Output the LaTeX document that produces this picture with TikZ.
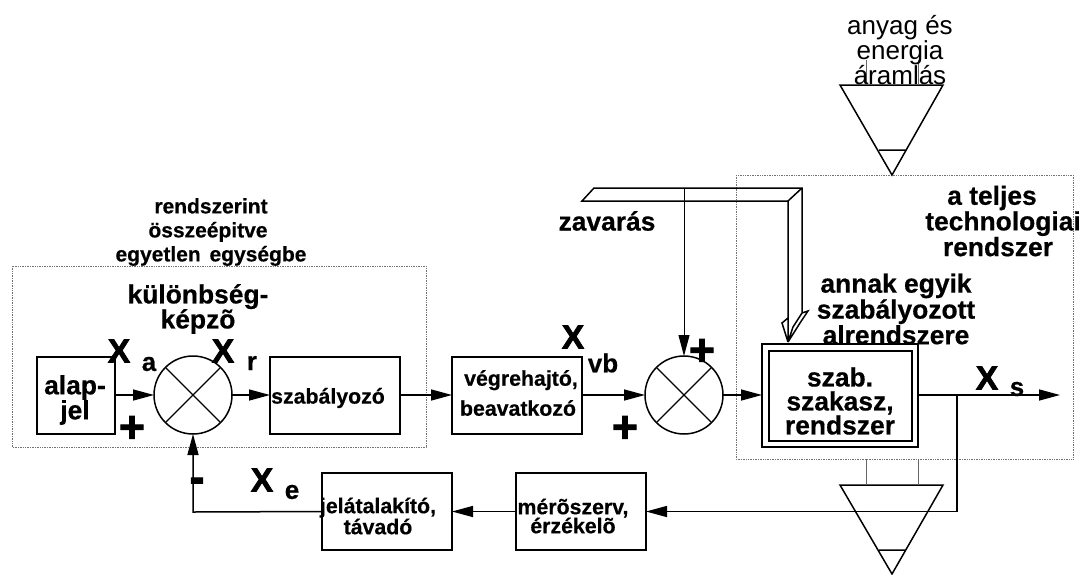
\documentclass[tikz,border=0pt]{standalone}
\usepackage{fontspec}
\setmainfont{Liberation Sans}[BoldFeatures={FakeBold=0.5}]
\newfontfamily\heavyfont{Liberation Sans Bold}[FakeBold=2.5]
\usetikzlibrary{arrows.meta}
\newcommand{\fs}[2]{\fontsize{#1}{#2}\selectfont}
\tikzset{
  every node/.style={inner sep=0pt,outer sep=0pt},
  ln/.style={line width=1.5pt,black,line join=miter},
  flow/.style={ln,-{Triangle[length=21pt,width=11pt]}},
  blockbox/.style={draw,line width=1.5pt,fill=white,minimum height=77pt},
  sumcirc/.style={circle,draw,line width=1.5pt,minimum size=78pt},
  dotbox/.style={draw=black!55,line width=0.7pt,densely dotted},
  thin gray/.style={draw=black!60,line width=0.9pt},
  lab/.style={font=\bfseries\fs{26.4}{24},align=center},
  smalllab/.style={font=\bfseries\fs{21.3}{19},align=center},
  bigx/.style={font=\heavyfont\fs{33}{33}},
  sub/.style={font=\bfseries\fs{26}{26}},
  sign/.style={font=\heavyfont\fs{44}{44}},
}
\begin{document}
\begin{tikzpicture}[x=1pt,y=-1pt]
\useasboundingbox[fill=white] (0,0) rectangle (1087,574);
% dotted frames
\draw[dotbox] (12,266) rectangle (426,447);
\draw[dotbox] (736,175) rectangle (1073,459);
% blocks
\node[blockbox,minimum width=78pt] (alap) at (76,395.5) {};
\node[blockbox,minimum width=130pt] (szabaly) at (335,395.5) {};
\node[blockbox,minimum width=130pt] (vegre) at (517,395.5) {};
\node[blockbox,minimum width=130pt] (jelat) at (387,511.5) {};
\node[blockbox,minimum width=130pt] (mero) at (581,511.5) {};
\node[sumcirc] (s1) at (193,395) {};
\node[sumcirc] (s2) at (684,395) {};
\node[draw,line width=2pt,minimum width=156pt,minimum height=103pt] (plant) at (840,395.5) {};
\node[draw,line width=2pt,minimum width=143pt,minimum height=90pt] (plantin) at (840,395.5) {};
% crosses in the summing junctions
\foreach \c in {s1,s2}{
  \draw[line width=1.3pt] (\c.45) -- (\c.225);
  \draw[line width=1.3pt] (\c.135) -- (\c.315);
}
% connectors
\coordinate (bend1) at (193,512);
\coordinate (tap) at (957,395);
\coordinate (tapd) at (957,511.5);
\coordinate (outend) at (1060,395);
\draw[flow] (alap.east |- s1) -- (s1.west);
\draw[flow] (s1.east) -- (szabaly.west |- s1);
\draw[flow] (szabaly.east |- s1) -- (vegre.west |- s1);
\draw[flow] (vegre.east |- s2) -- (s2.west);
\draw[flow] (s2.east) -- (plant.west |- s2);
\draw[flow] (plant.east |- tap) -- (outend);
\draw[ln] (tap) -- (tapd);
\draw[flow] (tapd) -- (mero.east);
\draw[flow] (mero.west) -- (jelat.east);
\draw[flow] (jelat.west) -- (bend1) -- (s1.south);
% disturbance
\coordinate (zt) at (684,188);
\draw[line width=1pt,-{Triangle[length=21pt,width=11pt]}] (zt) -- (s2.north);
\draw[ln] (788,342) -- (788,201) -- (582,201) -- (594,188) -- (802,188) -- (802,313)
  (788,201) -- (802,188)
  (802,313) -- (808,311) -- (800,323) -- (788,342)
  (802,313) -- (793,327) -- (788,342)
  (788,318) -- (782,323) -- (788,342);
% source and sink triangles
\coordinate (ta) at (840,85); \coordinate (tb) at (943,85); \coordinate (tc) at (892,175);
\draw[ln] (ta) -- (tb) -- (tc) -- cycle (879,150) -- (905,150);
\coordinate (ba) at (840,485); \coordinate (bb) at (943,485); \coordinate (bc) at (892,574);
\draw[ln] (ba) -- (bb) -- (bc) -- cycle (879,550) -- (905,550);
\coordinate (t1) at (866,60); \coordinate (t1b) at (866,85);
\coordinate (t2) at (918,60); \coordinate (t2b) at (918,85);
\draw[thin gray] (t1) -- (t1b) (t2) -- (t2b);
\coordinate (b1) at (866,459); \coordinate (b1b) at (866,485);
\coordinate (b2) at (918,459); \coordinate (b2b) at (918,485);
\draw[thin gray] (b1) -- (b1b) (b2) -- (b2b);
% labels
\node[font=\fs{26}{25},align=center] (tanyag) at (900,50) {anyag és\\energia\\áramlás};
\node[lab] (tteljes) at (1003,221) {\hspace*{-22pt}a teljes\\technologiai\\\hspace*{-10pt}rendszer};
\node[font=\bfseries\fs{21}{24},align=center] (trendsz) at (211,232) {rendszerint\\\hspace*{-6pt}összeépitve\\egyetlen\hspace{3pt} egységbe};
\node[lab,font=\bfseries\fs{26.4}{25}] (tkul) at (198,309) {különbség-\\képzõ};
\node[lab,font=\bfseries\fs{26.4}{25}] (talap) at (75,400) {alap-\\jel};
\node[smalllab] (tsz) at (328,398) {szabályozó};
\node[smalllab,font=\bfseries\fs{21.3}{30}] (tvegre) at (518,393) {\hspace*{6pt}végrehajtó,\\beavatkozó};
\node[smalllab] (tjel) at (378,516) {jelátalakító,\\távadó};
\node[smalllab] (tmero) at (573,516) {mérõszerv,\\érzékelõ};
\node[lab] (tplant) at (840,401) {szab.\\szakasz,\\rendszer};
\node[lab,font=\bfseries\fs{26.4}{24.5}] (tannak) at (896,309) {annak egyik\\szabályozott\\alrendszere};
\node[lab] (tzav) at (607,221) {zavarás};
\node[bigx] (xa) at (119,351) {X};
\node[sub] (xas) at (149,364) {a};
\node[bigx] (xr) at (223,351) {X};
\node[sub] (xrs) at (252,363) {r};
\node[bigx] (xv) at (573,337) {X};
\node[sub] (xvs) at (603,363) {vb};
\node[bigx] (xe) at (262,480) {X};
\node[sub] (xes) at (292,492) {e};
\node[bigx] (xs) at (987,378) {X};
\node[sub] (xss) at (1017,389) {s};
\node[sign] (p1) at (132,429) {+};
\node[sign] (p2) at (625,429) {+};
\node[sign] (p3) at (702,352) {+};
\node[sign] (m1) at (197,485) {-};
\end{tikzpicture}
\end{document}
